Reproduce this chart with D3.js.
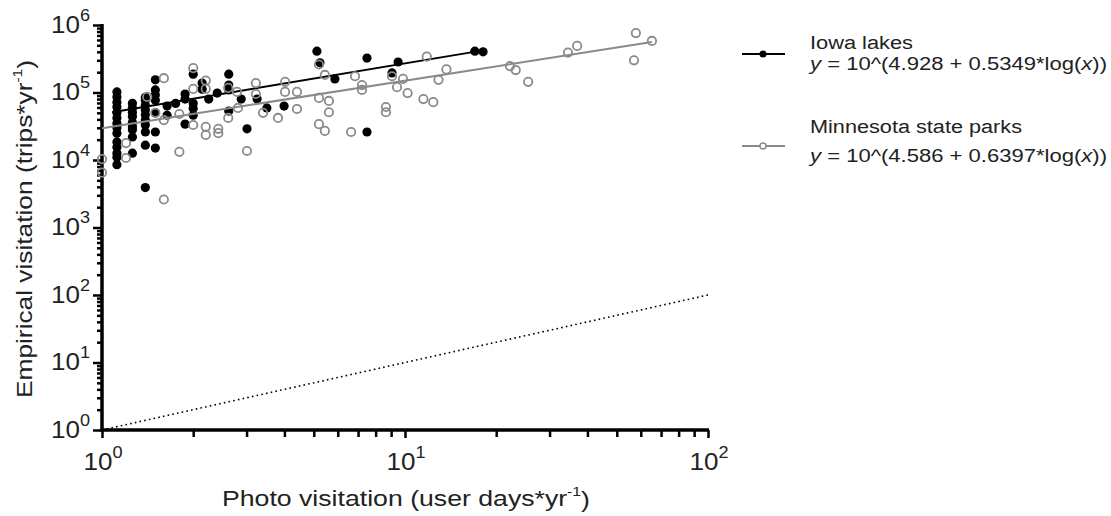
<!DOCTYPE html>
<html>
<head>
<meta charset="utf-8">
<script src="https://cdn.jsdelivr.net/npm/d3@7"></script>
<style>
  body { margin: 0; background: #fff; }
  svg { font-family: Arial, "Liberation Sans", sans-serif; }
</style>
</head>
<body>
<svg id="chart" width="1111" height="516"></svg>
<script>
// Iowa lakes (filled black dots)
var iowaX = [1.12,1.12,1.12,1.12,1.12,1.12,1.12,1.12,1.12,1.12,1.12,1.12,1.12,1.12,
  1.26,1.26,1.26,1.26,1.26,1.26,1.26,1.26,1.26,
  1.39,1.39,1.39,1.39,1.39,1.39,1.39,1.39,1.39,1.39,
  1.50,1.50,1.50,1.50,1.50,1.50,1.50,
  1.64,1.64,1.75,1.88,1.88,1.88,2.0,2.0,2.0,2.0,2.14,2.14,2.25,2.4,2.62,2.62,2.62,2.62,
  2.88,3.01,3.25,3.5,3.99,5.12,5.24,5.87,7.49,7.49,9.49,9.06,17.0,18.1];
var iowaY = [1.02e5,8.6e4,7.2e4,6.1e4,5.0e4,4.2e4,3.5e4,3.0e4,2.5e4,1.85e4,1.55e4,1.26e4,1.1e4,8.5e3,
  6.9e4,5.9e4,5.1e4,4.4e4,3.6e4,3.1e4,2.8e4,2.2e4,1.26e4,
  8.5e4,7.7e4,6.5e4,5.5e4,4.7e4,3.9e4,3.3e4,2.6e4,1.66e4,3.9e3,
  1.54e5,1.09e5,9.2e4,7.7e4,5.0e4,2.6e4,1.5e4,
  6.3e4,4.6e4,6.9e4,9.5e4,8.0e4,3.4e4,1.87e5,6.9e4,5.8e4,4.6e4,1.38e5,1.12e5,8.0e4,9.8e4,1.87e5,1.29e5,1.09e5,5.3e4,
  8.0e4,2.9e4,8.0e4,5.9e4,6.3e4,4.1e5,2.75e5,1.59e5,3.24e5,2.6e4,2.83e5,1.95e5,4.1e5,4.0e5];

// Minnesota state parks (open grey circles)
var mnX = [1.0,1.0,1.2,1.2,1.41,1.5,1.6,1.6,1.6,1.8,1.8,2.0,2.0,2.0,2.2,2.2,2.2,2.2,2.42,2.42,
  2.61,2.61,2.79,2.81,3.01,3.22,3.22,3.4,3.81,4.02,4.02,4.4,4.4,5.2,5.2,5.44,5.44,5.2,5.61,5.61,
  6.64,6.84,7.21,7.21,8.65,8.65,9.06,9.41,9.85,10.2,11.5,12.4,11.8,12.9,13.7,
  22.2,23.2,25.5,34.5,37.0,57.8,57.0,65.3];
var mnY = [1.03e4,6.5e3,1.78e4,1.07e4,8.6e4,5.0e4,1.63e5,3.9e4,2.6e3,4.8e4,1.32e4,2.3e5,1.13e5,3.3e4,1.5e5,1.13e5,3.1e4,2.35e4,2.9e4,2.5e4,
  1.17e5,4.2e4,1.02e5,5.9e4,1.36e4,1.38e5,9.5e4,5.0e4,4.2e4,1.44e5,1.02e5,1.02e5,5.7e4,8.3e4,3.4e4,2.7e4,1.82e5,2.6e5,7.5e4,5.1e4,
  2.6e4,1.74e5,1.29e5,1.09e5,6.1e4,5.1e4,1.74e5,1.2e5,1.59e5,9.8e4,8.0e4,7.2e4,3.4e5,1.54e5,2.2e5,
  2.46e5,2.15e5,1.44e5,3.9e5,4.9e5,7.6e5,3.0e5,5.8e5];

// fitted lines as drawn (end points)
var iowaFit = [[1.08, 5.1e4], [17.5, 4.1e5]];
var mnFit = [[1.0, 2.96e4], [65.3, 5.6e5]];
var identityLine = [[1, 1], [100, 100]];

var xExponents = [0, 1, 2];
var yExponents = [0, 1, 2, 3, 4, 5, 6];

var legendNames = ["Iowa lakes", "Minnesota state parks"];
var legendEq = [["4.928", "0.5349"], ["4.586", "0.6397"]];

var svg = d3.select("#chart");

var x = d3.scaleLog().domain([1, 100]).range([102, 708]);
var y = d3.scaleLog().domain([1, 1e6]).range([430, 25]);

var xMinor = [], yMinor = [];
xExponents.slice(0, -1).forEach(function(e) {
  for (var k = 2; k < 10; k++) xMinor.push(k * Math.pow(10, e));
});
yExponents.slice(0, -1).forEach(function(e) {
  for (var k = 2; k < 10; k++) yMinor.push(k * Math.pow(10, e));
});
var xMajor = xExponents.map(function(e) { return Math.pow(10, e); });
var yMajor = yExponents.map(function(e) { return Math.pow(10, e); });

function styleAxis(g, w) {
  g.select(".domain").remove();
  g.selectAll("line").attr("stroke", "#000").attr("stroke-width", w);
}

// x axis ticks
svg.append("g").attr("transform", "translate(0,430)")
  .call(d3.axisBottom(x).tickValues(xMinor).tickSize(7).tickFormat(""))
  .call(styleAxis, 2.5);
svg.append("g").attr("transform", "translate(0,430)")
  .call(d3.axisBottom(x).tickValues(xMajor).tickSize(8).tickFormat(""))
  .call(styleAxis, 2.5);

// y axis ticks
svg.append("g").attr("transform", "translate(102,0)")
  .call(d3.axisLeft(y).tickValues(yMinor).tickSize(5).tickFormat(""))
  .call(styleAxis, 2.5);
svg.append("g").attr("transform", "translate(102,0)")
  .call(d3.axisLeft(y).tickValues(yMajor).tickSize(9).tickFormat(""))
  .call(styleAxis, 2.5);

// axis lines
svg.append("line").attr("x1", 102).attr("x2", 102).attr("y1", y(1e6) - 1).attr("y2", 431.5)
  .attr("stroke", "#000").attr("stroke-width", 3.5);
svg.append("line").attr("x1", 100.5).attr("x2", x(100) + 1).attr("y1", 430).attr("y2", 430)
  .attr("stroke", "#000").attr("stroke-width", 3.5);

// tick labels 10^n (glyphs in the original are wider than Arial, so stretch)
function powLabel(sel, e) {
  sel.append("tspan").text("10");
  sel.append("tspan").attr("font-size", 16).attr("dy", "-0.72em").text(e);
  sel.attr("textLength", 39).attr("lengthAdjust", "spacingAndGlyphs");
}
xExponents.forEach(function(e) {
  var t = svg.append("text").attr("x", x(Math.pow(10, e)) + 1).attr("y", 470)
    .attr("text-anchor", "middle").attr("font-size", 23).attr("fill", "#222");
  powLabel(t, e);
});
yExponents.forEach(function(e) {
  var t = svg.append("text").attr("x", 90).attr("y", y(Math.pow(10, e)) + 7.5)
    .attr("text-anchor", "end").attr("font-size", 23).attr("fill", "#222");
  powLabel(t, e);
});

// axis titles
var xt = svg.append("text").attr("x", 406).attr("y", 506).attr("text-anchor", "middle")
  .attr("font-size", 22).attr("fill", "#222")
  .attr("textLength", 368).attr("lengthAdjust", "spacingAndGlyphs");
xt.append("tspan").text("Photo visitation (user days*yr");
xt.append("tspan").attr("font-size", 13).attr("dy", "-0.75em").text("-1");
xt.append("tspan").attr("dy", "0.5em").text(")");

var yt = svg.append("text").attr("transform", "translate(32,229) rotate(-90)")
  .attr("text-anchor", "middle").attr("font-size", 22).attr("fill", "#222")
  .attr("textLength", 338).attr("lengthAdjust", "spacingAndGlyphs");
yt.append("tspan").text("Empirical visitation (trips*yr");
yt.append("tspan").attr("font-size", 13).attr("dy", "-0.75em").text("-1");
yt.append("tspan").attr("dy", "0.5em").text(")");

// identity line
var line = d3.line().x(function(d) { return x(d[0]); }).y(function(d) { return y(d[1]); });
svg.append("path").attr("d", line(identityLine)).attr("fill", "none")
  .attr("stroke", "#000").attr("stroke-width", 1.6).attr("stroke-dasharray", "1.6,3.2");

// Iowa
svg.append("g").selectAll("circle").data(d3.range(iowaX.length)).join("circle")
  .attr("cx", function(i) { return x(iowaX[i]); })
  .attr("cy", function(i) { return y(iowaY[i]); })
  .attr("r", 4.6).attr("fill", "#000");
svg.append("path").attr("d", line(iowaFit)).attr("fill", "none")
  .attr("stroke", "#000").attr("stroke-width", 2);

// Minnesota
svg.append("g").selectAll("circle").data(d3.range(mnX.length)).join("circle")
  .attr("cx", function(i) { return x(mnX[i]); })
  .attr("cy", function(i) { return y(mnY[i]); })
  .attr("r", 4.2).attr("fill", "none").attr("stroke", "#8a8a8a").attr("stroke-width", 1.8);
svg.append("path").attr("d", line(mnFit)).attr("fill", "none")
  .attr("stroke", "#8a8a8a").attr("stroke-width", 2);

// legend
var legendY = [54, 146];
var legendColor = ["#000", "#8a8a8a"];
var nameWidth = [103, 212];
legendNames.forEach(function(name, i) {
  var g = svg.append("g").attr("transform", "translate(0," + legendY[i] + ")");
  g.append("line").attr("x1", 742).attr("x2", 785).attr("stroke", legendColor[i]).attr("stroke-width", 2);
  if (i == 0) {
    g.append("circle").attr("cx", 763).attr("r", 3.5).attr("fill", "#000");
  } else {
    g.append("circle").attr("cx", 763).attr("r", 3).attr("fill", "#fff")
      .attr("stroke", legendColor[i]).attr("stroke-width", 1.5);
  }
  g.append("text").attr("x", 810).attr("y", i == 0 ? -5 : -13)
    .attr("font-size", 18).attr("fill", "#222")
    .attr("textLength", nameWidth[i]).attr("lengthAdjust", "spacingAndGlyphs")
    .text(name);
  var eq = g.append("text").attr("x", 810).attr("y", 16)
    .attr("font-size", 18).attr("fill", "#222")
    .attr("textLength", 297).attr("lengthAdjust", "spacingAndGlyphs");
  eq.append("tspan").attr("font-style", "italic").text("y");
  eq.append("tspan").text(" = 10^(" + legendEq[i][0] + " + " + legendEq[i][1] + "*log(");
  eq.append("tspan").attr("font-style", "italic").text("x");
  eq.append("tspan").text("))");
});
</script>
</body>
</html>
